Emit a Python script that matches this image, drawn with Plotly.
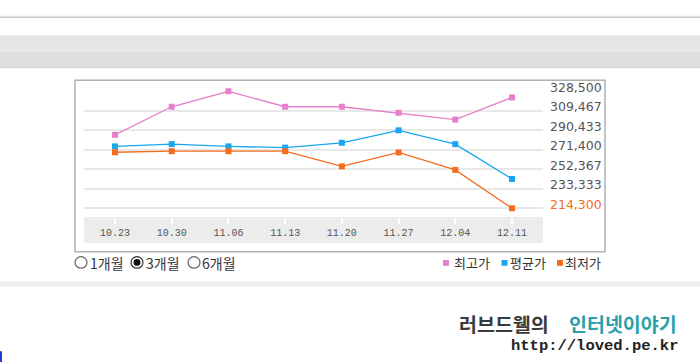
import plotly.graph_objects as go

W, H = 700, 362

# ---------------- data ----------------
dates = ["10.23", "10.30", "11.06", "11.13", "11.20", "11.27", "12.04", "12.11"]
series_names = ["최고가", "평균가", "최저가"]
max_price = [286000, 313400, 328500, 313400, 313400, 307500, 300900, 322500]
avg_price = [274700, 276900, 274700, 273500, 278200, 290400, 276900, 242900]
min_price = [269000, 270000, 270000, 270000, 255200, 268800, 251800, 214300]
y_ticks = [328500, 309467, 290433, 271400, 252367, 233333, 214300]
period_labels = ["1개월", "3개월", "6개월"]
watermark_title = ["러브드웰의", "인터넷이야기"]
watermark_url = "http://loved.pe.kr"

colors = ["#e87fcb", "#19a6ee", "#f46c1c"]


def px(x):
    return x / W


def py(y):
    return 1 - y / H


# plot geometry (pixels)
left, right = 84, 543
grid_top, grid_bottom, axis_y = 82, 203, 212
first_x, last_x = 115, 512

units_per_px = (max(y_ticks) - min(y_ticks)) / (grid_bottom - grid_top)
y_range = [min(y_ticks) - (axis_y - grid_bottom) * units_per_px, max(y_ticks)]
cat_px = (last_x - first_x) / (len(dates) - 1)
x_range = [-(first_x - left) / cat_px, len(dates) - 1 + (right - last_x) / cat_px]

fig = go.Figure()
for name, vals, col in zip(series_names, [max_price, avg_price, min_price], colors):
    fig.add_trace(go.Scatter(
        x=dates, y=vals, name=name, mode="lines+markers",
        line=dict(color=col, width=1.3),
        marker=dict(symbol="square", size=6, color=col),
        cliponaxis=False, showlegend=False,
    ))

tick_text = [f"{v:,}" for v in y_ticks]
tick_text[-1] = f'<span style="color:{colors[2]}">{tick_text[-1]}</span>'

shapes = []
# page decorations
shapes.append(dict(type="line", xref="paper", yref="paper", x0=0, x1=1, y0=py(3), y1=py(3),
                   line=dict(color="#eeeeee", width=1)))
shapes.append(dict(type="line", xref="paper", yref="paper", x0=0, x1=1, y0=py(5.5), y1=py(5.5),
                   line=dict(color="#c6c6c6", width=1.5)))
shapes.append(dict(type="rect", xref="paper", yref="paper", x0=0, x1=1, y0=py(41), y1=py(24),
                   fillcolor="#e6e6e6", line=dict(width=0), layer="below"))
shapes.append(dict(type="rect", xref="paper", yref="paper", x0=0, x1=1, y0=py(57), y1=py(41),
                   fillcolor="#dedede", line=dict(width=0), layer="below"))
shapes.append(dict(type="line", xref="paper", yref="paper", x0=0, x1=1, y0=py(57.5), y1=py(57.5),
                   line=dict(color="#d2d2d2", width=1)))
shapes.append(dict(type="rect", xref="paper", yref="paper", x0=0, x1=1, y0=py(284), y1=py(279),
                   fillcolor="#eeeeee", line=dict(width=0), layer="below"))
shapes.append(dict(type="rect", xref="paper", yref="paper", x0=0, x1=px(2), y0=0, y1=py(351),
                   fillcolor="#1d3ccc", line=dict(width=0)))
# chart frame
shapes.append(dict(type="rect", xref="paper", yref="paper", x0=px(75), x1=px(605), y0=py(248), y1=py(70.5),
                   fillcolor="rgba(0,0,0,0)", line=dict(color="#b0b0b0", width=1.5), layer="below"))
# x-axis band
shapes.append(dict(type="rect", xref="paper", yref="paper", x0=px(left), x1=px(right), y0=py(239), y1=py(axis_y),
                   fillcolor="#ececec", line=dict(width=0), layer="below"))

# radio buttons
radio_cx = [81, 137, 194]
for i, cx in enumerate(radio_cx):
    shapes.append(dict(type="circle", xref="paper", yref="paper",
                       x0=px(cx - 6), x1=px(cx + 6), y0=py(265), y1=py(253),
                       fillcolor="white", line=dict(color="#666666" if i != 1 else "#333333", width=1.2)))
    if i == 1:
        shapes.append(dict(type="circle", xref="paper", yref="paper",
                           x0=px(cx - 3.5), x1=px(cx + 3.5), y0=py(262.5), y1=py(255.5),
                           fillcolor="#111111", line=dict(width=0)))

# legend squares
legend_sq_x = [443, 501.5, 557]
for sx, col in zip(legend_sq_x, colors):
    shapes.append(dict(type="rect", xref="paper", yref="paper",
                       x0=px(sx), x1=px(sx + 6), y0=py(262.5), y1=py(256.5),
                       fillcolor=col, line=dict(width=0)))

annotations = []
radio_tx = [87.5, 144, 200]
for tx, lab in zip(radio_tx, period_labels):
    annotations.append(dict(xref="paper", yref="paper", x=px(tx), y=py(259.5), text=lab,
                            xanchor="left", yanchor="middle", showarrow=False,
                            font=dict(family="Noto Sans CJK KR", size=14, color="#333333")))
legend_tx = [451.5, 508, 563]
for tx, lab in zip(legend_tx, series_names):
    annotations.append(dict(xref="paper", yref="paper", x=px(tx), y=py(259.5), text=lab,
                            xanchor="left", yanchor="middle", showarrow=False,
                            font=dict(family="Noto Sans CJK KR", size=13, color="#333333")))
# watermark
annotations.append(dict(xref="paper", yref="paper", x=px(457), y=py(322), text=f"<b>{watermark_title[0]}</b>",
                        xanchor="left", yanchor="middle", showarrow=False,
                        font=dict(family="Noto Sans CJK KR", size=19.5, color="#3a3a3a")))
annotations.append(dict(xref="paper", yref="paper", x=px(567), y=py(322), text=f"<b>{watermark_title[1]}</b>",
                        xanchor="left", yanchor="middle", showarrow=False,
                        font=dict(family="Noto Sans CJK KR", size=19.5, color="#2a9fa9")))
annotations.append(dict(xref="paper", yref="paper", x=px(509), y=py(345), text=f"<b>{watermark_url}</b>",
                        xanchor="left", yanchor="middle", showarrow=False,
                        font=dict(family="Liberation Mono", size=15.5, color="#222222")))

fig.update_layout(
    width=W, height=H,
    margin=dict(l=0, r=0, t=0, b=0),
    paper_bgcolor="white", plot_bgcolor="rgba(0,0,0,0)",
    showlegend=False,
    xaxis=dict(type="category", domain=[px(left), px(right)], range=x_range,
               showgrid=False, showline=False, zeroline=False,
               ticks="outside", ticklen=6, tickwidth=1.5, tickcolor="white",
               tickfont=dict(family="Liberation Mono", size=10, color="#555555"),
               fixedrange=True),
    yaxis=dict(domain=[py(axis_y), py(grid_top)], range=y_range, side="right",
               tickvals=y_ticks, ticktext=tick_text,
               showgrid=True, gridcolor="#e8e8e8", gridwidth=1.5,
               zeroline=False, showline=False, ticks="", ticklabelstandoff=6,
               ticklabelshift=-4,
               tickfont=dict(family="DejaVu Sans", size=12.5, color="#555555"),
               fixedrange=True),
    shapes=shapes,
    annotations=annotations,
)

post = (
    "document.body.style.margin='0';document.body.style.padding='0';"
    "document.body.style.overflow='hidden';"
    "var gd=document.getElementById('{plot_id}');"
    "gd.style.position='absolute';gd.style.left='0px';gd.style.top='0px';"
)
fig.write_html("out.html", config={"displayModeBar": False}, post_script=post)
